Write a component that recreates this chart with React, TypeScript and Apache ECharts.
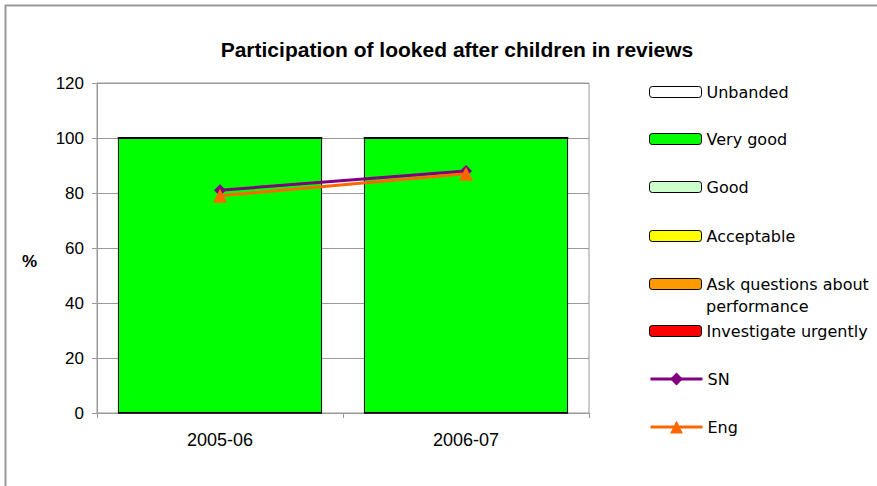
import React, { useEffect, useRef } from "react";
import * as echarts from "echarts";

const categories = ["2005-06", "2006-07"];
const unbanded = [0, 0];
const veryGood = [100, 100];
const good = [0, 0];
const acceptable = [0, 0];
const askQuestions = [0, 0];
const investigate = [0, 0];
const sn = [81, 88];
const eng = [79, 87];
const yTicks = [0, 20, 40, 60, 80, 100, 120];

const LEG_FONT = "DejaVu Sans";
const SN_COLOR = "#800080";
const ENG_COLOR = "#FF6600";

export default function App() {
  const ref = useRef<HTMLDivElement>(null);
  useEffect(() => {
    if (!ref.current) return;
    const chart = echarts.init(ref.current, undefined, { renderer: "svg" });
    const barNames = [
      ["Unbanded", unbanded, "#FFFFFF"],
      ["Very good", veryGood, "#00FF00"],
      ["Good", good, "#CCFFCC"],
      ["Acceptable", acceptable, "#FFFF00"],
      ["Ask questions about performance", askQuestions, "#FF9900"],
      ["Investigate urgently", investigate, "#FF0000"],
    ] as const;
    const legendTops = [93, 140, 188, 237, 285, 332, 380, 428];
    const legendNames = [...barNames.map((b) => b[0]), "SN", "Eng"];
    const legends = legendNames.map((name, i) => {
      const base: any = {
        show: true,
        left: 649,
        top: legendTops[i] - 9,
        orient: "vertical",
        itemWidth: 52,
        itemHeight: i < 6 ? 11 : 16,
        itemGap: 0,
        padding: 0,
        data: [name],
        selectedMode: false,
        formatter: (n: string) => (n === "Ask questions about performance" ? "Ask questions about" : n),
        textStyle: { fontFamily: LEG_FONT, fontSize: 16, color: "#000", padding: [0, 0, 0, 0] },
      };
      if (i < 6) {
        base.itemStyle = { borderColor: "#000", borderWidth: 1 };
      } else {
        const c = i === 6 ? SN_COLOR : ENG_COLOR;
        base.itemStyle = { color: c, borderWidth: 0 };
        base.lineStyle = { color: c, width: 3 };
      }
      return base;
    });
    chart.setOption({
      animation: false,
      backgroundColor: "#fff",
      title: {
        text: "Participation of looked after children in reviews",
        left: 452,
        textAlign: "center",
        top: 34,
        textStyle: { fontFamily: "Liberation Sans", fontWeight: "bold", fontSize: 21, color: "#000" },
      },
      legend: legends,
      grid: {
        left: 97,
        right: 288,
        top: 83,
        bottom: 73,
        show: true,
        borderColor: "#999",
        borderWidth: 1,
        backgroundColor: "transparent",
      },
      xAxis: {
        type: "category",
        data: categories,
        axisLine: { lineStyle: { color: "#999", width: 1 } },
        axisTick: { show: true, alignWithLabel: false, length: 5, lineStyle: { color: "#999" } },
        axisLabel: { fontFamily: "Liberation Sans", fontSize: 18, color: "#000", margin: 18 },
      },
      yAxis: {
        type: "value",
        min: 0,
        max: 120,
        interval: 20,
        axisLine: { show: true, lineStyle: { color: "#999", width: 1 } },
        axisTick: { show: true, inside: false, length: 5, lineStyle: { color: "#999" } },
        axisLabel: {
          fontFamily: "Liberation Sans",
          fontSize: 17,
          color: "#000",
          margin: 13,
          formatter: (v: number) => (yTicks.includes(v) ? String(v) : ""),
        },
        splitLine: { show: true, lineStyle: { color: "#999", width: 1 } },
      },
      graphic: [
        {
          type: "polyline",
          shape: { points: [[5.5, 486], [5.5, 5.5], [877, 5.5]] },
          style: { stroke: "#999", lineWidth: 2, fill: "none" },
          silent: true,
        },
        {
          type: "text",
          left: 706,
          top: 298,
          style: { text: "performance", fontFamily: LEG_FONT, fontSize: 16, fill: "#000" },
        },
        {
          type: "text",
          left: 22,
          top: 253,
          style: { text: "%", fontFamily: "Liberation Sans", fontWeight: "bold", fontSize: 17, fill: "#000" },
        },
      ],
      series: [
        ...barNames.map(([name, data, color]) => ({
          name,
          type: "bar",
          stack: "bands",
          data: data as number[],
          barCategoryGap: "17%",
          itemStyle: { color, borderColor: "#000", borderWidth: 1 },
        })),
        {
          name: "SN",
          type: "line",
          data: sn,
          symbol: "diamond",
          symbolSize: 12,
          itemStyle: { color: SN_COLOR },
          lineStyle: { color: SN_COLOR, width: 3 },
          z: 5,
        },
        {
          name: "Eng",
          type: "line",
          data: eng,
          symbol: "triangle",
          symbolSize: 14,
          itemStyle: { color: ENG_COLOR },
          lineStyle: { color: ENG_COLOR, width: 3 },
          z: 6,
        },
      ],
    });
    return () => chart.dispose();
  }, []);
  return (
    <div
      ref={ref}
      style={{ position: "fixed", left: 0, top: 0, width: 877, height: 486 }}
    />
  );
}
